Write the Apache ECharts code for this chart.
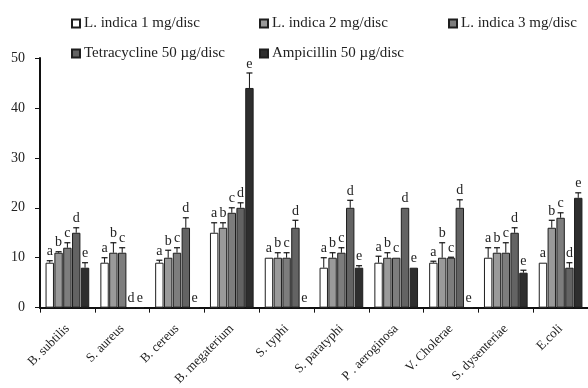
<!DOCTYPE html>
<html>
<head>
<meta charset="utf-8">
<script src="https://cdn.jsdelivr.net/npm/echarts@6/dist/echarts.min.js"></script>
<style>
  html, body { margin: 0; padding: 0; background: #fff; }
  #chart { width: 588px; height: 388px; }
</style>
</head>
<body>
<div id="chart"></div>
<script>
// Inhibition zone (mm) for each test organism
const categories = ['B. subtilis', 'S. aureus', 'B. cereus', 'B. megaterium', 'S. typhi',
  'S. paratyphi', 'P . aeroginosa', 'V. Cholerae', 'S. dysenteriae', 'E.coli'];

const seriesNames = ['L. indica 1 mg/disc', 'L. indica 2 mg/disc', 'L. indica 3 mg/disc',
  'Tetracycline 50 \u00b5g/disc', 'Ampicillin 50 \u00b5g/disc'];
const seriesLetters = ['a', 'b', 'c', 'd', 'e'];

const indica1    = [9, 9, 9, 15, 10, 8, 9, 9, 10, 9];
const indica1Err = [0.4, 1, 0.5, 2, 0, 2, 1.3, 0.3, 2, 0];
const indica2    = [11, 11, 10, 16, 10, 10, 10, 10, 11, 16];
const indica2Err = [0.2, 2, 1.5, 1, 1, 1, 1, 3, 1, 1.5];
const indica3    = [12, 11, 11, 19, 10, 11, 10, 10, 11, 18];
const indica3Err = [1, 1, 1, 1, 1, 1, 0, 0.1, 2, 1];
const tetra      = [15, 0, 16, 20, 16, 20, 20, 20, 15, 8];
const tetraErr   = [1, 0, 2, 1, 1.5, 1.5, 0, 1.6, 1, 1];
const ampi       = [8, 0, 0, 44, 0, 8, 8, 0, 7, 22];
const ampiErr    = [1, 0, 0, 3, 0, 0.4, 0, 0, 0.5, 1];

const yTicks = [0, 10, 20, 30, 40, 50];

const values = [indica1, indica2, indica3, tetra, ampi];
const errors = [indica1Err, indica2Err, indica3Err, tetraErr, ampiErr];
const colors = ['#ffffff', '#9a9a9a', '#7d7d7d', '#636363', '#2e2e2e'];

const FONT = 'Liberation Serif';
const BAR_W = 8.4;
const GAP = BAR_W * 0.05;
const GROUP_W = 5 * BAR_W + 4 * GAP;

const barSeries = values.map((vals, i) => ({
  name: seriesNames[i],
  type: 'bar',
  data: vals,
  barWidth: BAR_W,
  barGap: '5%',
  itemStyle: { color: colors[i], borderColor: '#1e1e1e', borderWidth: 1 },
  emphasis: { disabled: true },
  z: 2
}));

// Upward error bars with significance letters above them
const errSeries = values.map((vals, i) => ({
  type: 'custom',
  data: vals.map((v, k) => [k, v, errors[i][k]]),
  z: 3,
  silent: true,
  renderItem: function (params, api) {
    const cat = api.value(0), v = api.value(1), e = api.value(2);
    const base = api.coord([cat, v]);
    const top = api.coord([cat, v + e]);
    const x = base[0] - GROUP_W / 2 + i * (BAR_W + GAP) + BAR_W / 2;
    const children = [];
    if (e > 0) {
      children.push({
        type: 'line',
        shape: { x1: x, y1: base[1], x2: x, y2: top[1] },
        style: { stroke: '#111', lineWidth: 1 }
      });
      children.push({
        type: 'line',
        shape: { x1: x - 3, y1: top[1], x2: x + 3, y2: top[1] },
        style: { stroke: '#111', lineWidth: 1.2 }
      });
    }
    children.push({
      type: 'text',
      style: {
        x: x, y: top[1] - 2,
        text: seriesLetters[i],
        align: 'center', verticalAlign: 'bottom',
        fontFamily: FONT, fontSize: 14, fill: '#222'
      }
    });
    return { type: 'group', children: children };
  }
}));

const legendPos = [[66, 11], [254, 11], [443, 11], [66, 41], [254, 41]];
const legends = seriesNames.map((n, i) => ({
  data: [n],
  left: legendPos[i][0],
  top: legendPos[i][1],
  icon: 'rect',
  itemWidth: 8,
  itemHeight: 8,
  itemGap: 5,
  selectedMode: false,
  textStyle: { fontFamily: FONT, fontSize: 15, color: '#222', padding: [0, 0, 0, -1] }
}));

const chart = echarts.init(document.getElementById('chart'), null, { renderer: 'canvas' });
chart.setOption({
  animation: false,
  backgroundColor: '#fff',
  legend: legends,
  grid: { left: 40, top: 58, width: 555.5, height: 253, containLabel: false },
  xAxis: {
    type: 'category',
    data: categories,
    axisLine: { lineStyle: { color: '#111', width: 2 } },
    axisTick: { show: true, length: 5, lineStyle: { color: '#111', width: 1 } },
    axisLabel: {
      rotate: 45, interval: 0, margin: 19,
      fontFamily: FONT, fontSize: 13, color: '#222'
    }
  },
  yAxis: {
    type: 'value',
    min: yTicks[0],
    max: yTicks[yTicks.length - 1],
    interval: 10,
    splitLine: { show: false },
    axisLine: { show: true, lineStyle: { color: '#111', width: 2 } },
    axisTick: { show: true, length: 5, lineStyle: { color: '#111', width: 1 } },
    axisLabel: { fontFamily: FONT, fontSize: 14, color: '#222', margin: 15 }
  },
  series: barSeries.concat(errSeries)
});
</script>
</body>
</html>
